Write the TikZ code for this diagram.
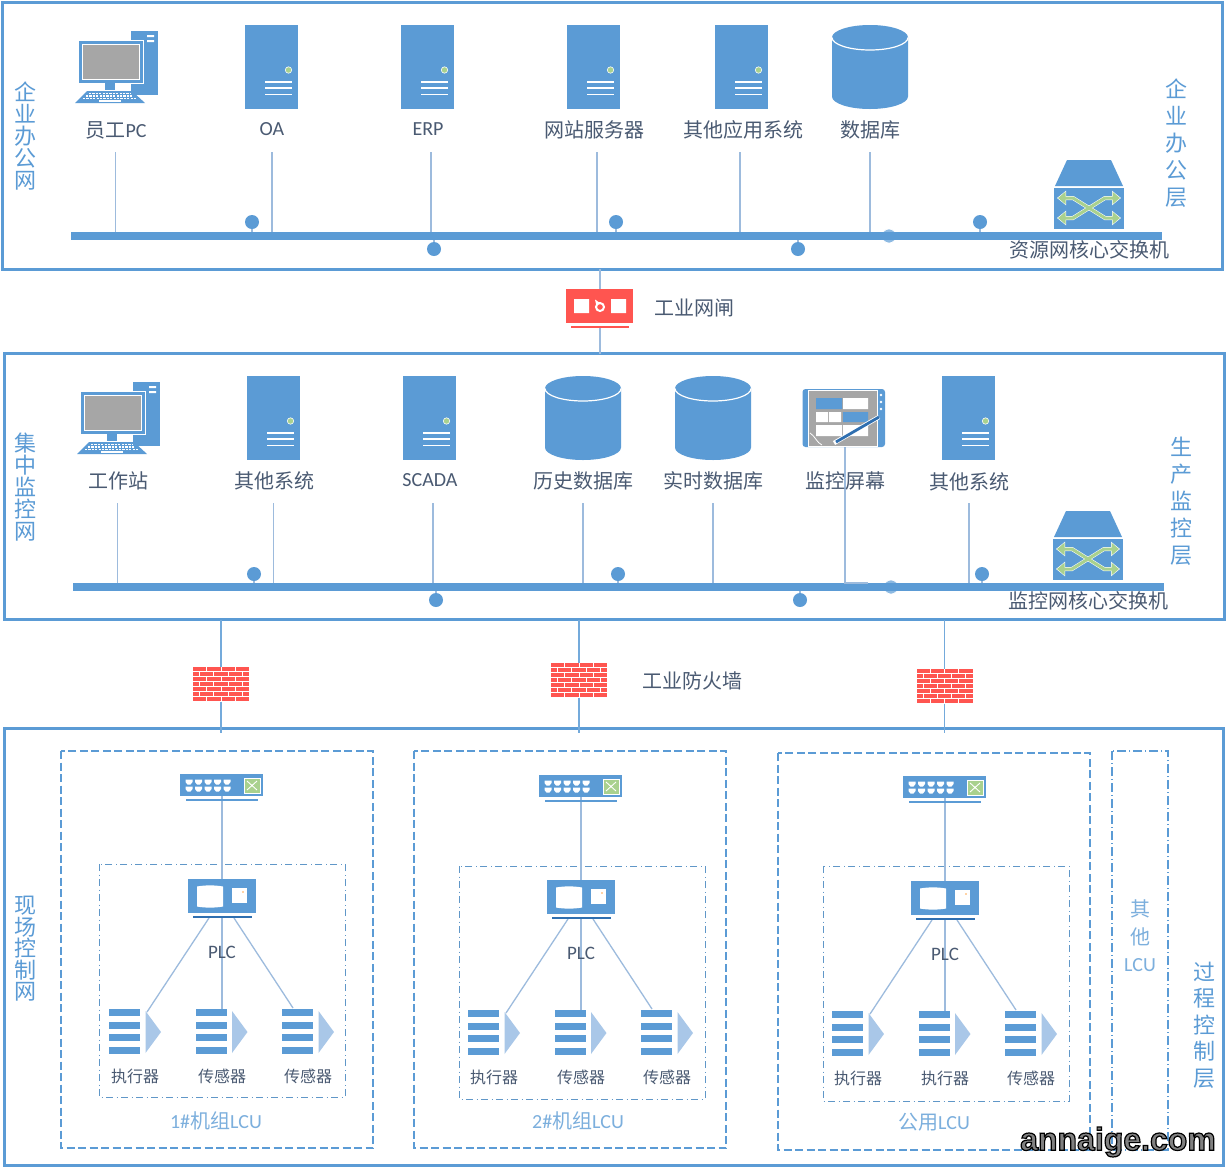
\documentclass[tikz,border=0pt]{standalone}
\usepackage{fontspec}
\setmainfont{Carlito}
\newfontfamily\cjk{Noto Sans CJK SC}
\newfontfamily\wmfont{Liberation Sans}
\usetikzlibrary{arrows.meta}
\definecolor{blu}{HTML}{5B9BD5}
\definecolor{pale}{HTML}{A9C7E8}
\definecolor{lnk}{HTML}{9DBBDD}
\definecolor{txtc}{HTML}{4A5A72}
\definecolor{grn}{HTML}{A9D18E}
\definecolor{redd}{HTML}{FF5550}
\definecolor{gry}{HTML}{A6A6A6}
\definecolor{penb}{HTML}{2F6FB0}
\tikzset{
  netframe/.style={draw=blu,line width=3pt,fill=white,inner sep=0pt,outer sep=0pt},
  busbar/.style={fill=blu,inner sep=0pt,outer sep=0pt,minimum height=8pt},
  link/.style={draw=lnk,line width=1.3pt},
  feed/.style={draw=blu!85!white,line width=1.1pt},
  busdot/.style={circle,fill=blu,inner sep=0pt,outer sep=0pt,minimum size=14pt},
  hiddendot/.style={circle,fill=blu!70!white,draw=white,line width=.6pt,inner sep=0pt,outer sep=0pt,minimum size=14pt},
  lab/.style={inner sep=0pt,text=txtc,font=\fontsize{20}{24}\selectfont},
  slab/.style={inner sep=0pt,text=txtc,font=\fontsize{16}{20}\selectfont},
  vlab/.style={inner sep=0pt,align=center,text=blu,font=\fontsize{22}{#1}\selectfont\cjk},
  lculab/.style={inner sep=0pt,text=blu!80!white,font=\fontsize{20}{24}\selectfont},
  outerdash/.style={draw=blu,line width=1.5pt,dash pattern=on 8pt off 3.5pt},
  innerdash/.style={draw=blu!85!gray,line width=1pt,dash pattern=on 7pt off 3.5pt on 1pt off 3.5pt},
  otherdash/.style={draw=blu,line width=1.5pt,dash pattern=on 9pt off 3pt on 1pt off 3pt},
  server/.pic={
    \fill[blu] (0,0) rectangle (53,84);
    \fill[grn,draw=white,line width=.6pt] (43.5,45) circle (3.2pt);
    \foreach \yy in {57,63,69.5} \draw[white,line width=1.8pt] (20,\yy) -- (47,\yy);
  },
  database/.pic={
    \fill[blu] (0,12.5) -- (0,71.5) .. controls (0,78.4) and (17,84) .. (38,84)
      .. controls (59,84) and (76,78.4) .. (76,71.5) -- (76,12.5)
      .. controls (76,5.6) and (59,0) .. (38,0) .. controls (17,0) and (0,5.6) .. (0,12.5) -- cycle;
    \draw[white,line width=1.2pt] (0,12.5) .. controls (0,19.4) and (17,25) .. (38,25)
      .. controls (59,25) and (76,19.4) .. (76,12.5);
  },
  pcicon/.pic={
    \fill[blu] (56,1) rectangle (83,65);
    \fill[white] (72,5) rectangle (79,7) (72,10) rectangle (79,12);
    \fill[blu,draw=white,line width=.8pt] (3,10) rectangle (68,53);
    \fill[gry,draw=white,line width=.8pt] (7.5,14) rectangle (64,49);
    \fill[blu] (30,53) rectangle (40,60);
    \fill[blu] (12,61) -- (57,61) -- (70,73) -- (0,73) -- cycle;
    \foreach \yy/\xa/\xb in {63.5/14/55,66/11/58,68.5/8/61} \draw[white,line width=1.4pt,dash pattern=on 2.2pt off 1.2pt] (\xa,\yy) -- (\xb,\yy);
    \draw[white,line width=1.6pt] (24,71) -- (46,71);
  },
  coreswitch/.pic={
    \fill[blu] (13,0) -- (57,0) -- (69,26) -- (1,26) -- cycle;
    \fill[blu] (0,28) rectangle (70,69);
    \foreach \ya/\yb in {38/58,58/38} {
      \draw[white,line width=4pt,{Triangle[length=9pt,width=14pt]}-{Triangle[length=9pt,width=14pt]}] (3,\ya) -- (19,\ya) -- (51,\yb) -- (67,\yb);
    }
    \foreach \ya/\yb in {38/58,58/38} {
      \draw[grn,line width=3pt,{Triangle[length=7.5pt,width=12pt]}-{Triangle[length=7.5pt,width=12pt]}] (4,\ya) -- (19,\ya) -- (51,\yb) -- (66,\yb);
    }
  },
  bricks/.pic={
    \foreach \r in {0,2,4,6} \foreach \c in {0,1,2,3}
      \fill[redd] ({\c*14.25},{\r*5}) rectangle ({\c*14.25+13.25},{\r*5+4});
    \foreach \r in {1,3,5} {
      \fill[redd] (0,{\r*5}) rectangle (6,{\r*5+4});
      \foreach \c in {0,1,2} \fill[redd] ({7+\c*14.25},{\r*5}) rectangle ({20.25+\c*14.25},{\r*5+4});
      \fill[redd] (49.75,{\r*5}) rectangle (56,{\r*5+4});
    }
  },
  hubface/.pic={
    \foreach \yy in {5.5,12.5} \foreach \c in {0,1,2,3,4}
      \fill[white] ({5.5+\c*9.5},\yy) -- ({12.5+\c*9.5},\yy) -- ({12.5+\c*9.5},{\yy+2.5}) -- ({10.5+\c*9.5},{\yy+5}) -- ({7.5+\c*9.5},{\yy+5}) -- ({5.5+\c*9.5},{\yy+2.5}) -- cycle;
    \fill[grn,draw=white,line width=.8pt] (64,4) rectangle (80,19);
    \draw[white,line width=.9pt] (67,7) -- (77,16) (67,16) -- (77,7);
    \draw[blu,line width=1.6pt] (6,26) -- (78,26);
  },
  plcface/.pic={
    \fill[white] (9,7.5) .. controls (17,6) and (27,6) .. (35,7.5) -- (35,27.5) .. controls (27,29) and (17,29) .. (9,27.5) -- cycle;
    \fill[white] (44,9) rectangle (59,24);
    \fill[orange!70!white] (55,13) circle (.8pt);
    \draw[penb,line width=2pt] (5,38) -- (64,38);
  },
  actuator/.pic={
    \foreach \yy in {0,12.6,25.2,38} \fill[blu] (0,\yy) rectangle (31,{\yy+7});
    \fill[pale] (36.5,2) -- (52,23) -- (36.5,44) -- cycle;
  },
}
\begin{document}
\begin{tikzpicture}[x=1pt,y=-1pt]
\useasboundingbox (0,0) rectangle (1227,1168);
\fill[white] (0,0) rectangle (1227,1168);
% network frames
\node[netframe,minimum width=1220pt,minimum height=267pt] (net1) at (612,135.5) {};
\node[netframe,minimum width=1220pt,minimum height=266pt] (net2) at (614,486.5) {};
\node[netframe,minimum width=1219pt,minimum height=437pt] (net3) at (613.5,946.5) {};
% buses
\node[busbar,minimum width=1091pt] (bus1) at (616.5,236) {};
\node[busbar,minimum width=1091pt] (bus2) at (618.5,587) {};
% hidden dots behind bus
\node[hiddendot] (hd1) at (889,236) {};
\node[hiddendot] (hd2) at (891,587) {};
\fill[blu] (71,232) rectangle (1162,240);
\fill[blu] (73,583) rectangle (1164,591);
% bus dots
\foreach \n/\xx/\yy in {a/252/222,b/616/222,c/980/222}{
  \node[busdot] (d1\n) at (\xx,\yy) {};
  \draw[link] (d1\n) -- (d1\n |- bus1.north);
}
\foreach \n/\xx/\yy in {a/434/249,b/798/249}{
  \node[busdot] (d1\n) at (\xx,\yy) {};
  \draw[link] (d1\n) -- (d1\n |- bus1.south);
}
\foreach \n/\xx/\yy in {a/254/574,b/618/574,c/982/574}{
  \node[busdot] (d2\n) at (\xx,\yy) {};
  \draw[link] (d2\n) -- (d2\n |- bus2.north);
}
\foreach \n/\xx/\yy in {a/436/600,b/800/600}{
  \node[busdot] (d2\n) at (\xx,\yy) {};
  \draw[link] (d2\n) -- (d2\n |- bus2.south);
}
% drop lines
\foreach \xx [count=\i] in {115.5,272,431,597,740,870}{
  \coordinate (ta\i) at (\xx,152);
  \draw[link] (ta\i) -- (ta\i |- bus1.north);
}
\foreach \xx [count=\i] in {117.5,273.5,433,583,713,969}{
  \coordinate (tb\i) at (\xx,503);
  \draw[link] (tb\i) -- (tb\i |- bus2.north);
}
% row 1 icons
\pic at (75,30) {pcicon};
\pic at (245,25) {server};
\pic at (401,25) {server};
\pic at (567,25) {server};
\pic at (715,25) {server};
\pic at (832,25) {database};
\pic at (1054,160) {coreswitch};
% row 1 labels
\node[lab] (la1) at (116,130) {{\cjk 员工}PC};
\node[lab] (la2) at (272,129) {OA};
\node[lab] (la3) at (428,129) {ERP};
\node[lab,font=\fontsize{20}{24}\selectfont\cjk] (la4) at (594,130) {网站服务器};
\node[lab,font=\fontsize{20}{24}\selectfont\cjk] (la5) at (743,130) {其他应用系统};
\node[lab,font=\fontsize{20}{24}\selectfont\cjk] (la6) at (870,130) {数据库};
\node[lab,font=\fontsize{20}{24}\selectfont\cjk] (la7) at (1089,250) {资源网核心交换机};
\node[vlab=22] (va1) at (25,136) {企\\业\\办\\公\\网};
\node[vlab=27] (va2) at (1176,143) {企\\业\\办\\公\\层};
% gateway
\node[fill=redd,inner sep=0pt,outer sep=0pt,minimum width=67pt,minimum height=34pt] (gate) at (599.5,306) {};
\coordinate (gateb) at (600,327);
\draw[link] (net1.south -| gateb) -- (gate.north -| gateb);
\draw[link] (gateb) -- (net2.north -| gateb);
\draw[redd,line width=1.4pt] (571,327) -- (629,327);
\fill[white] (574,299) rectangle (589,313) (611,299) rectangle (626,313);
\draw[white,line width=2pt] (600,307) circle (4pt);
\fill[white] (595,299.5) -- (600,303) -- (596,304) -- cycle;
\node[lab,font=\fontsize{20}{24}\selectfont\cjk] (gatel) at (694,308) {工业网闸};
% row 2 icons
\pic at (77,381) {pcicon};
\pic at (247,376) {server};
\pic at (403,376) {server};
\pic at (545,376) {database};
\pic at (675,376) {database};
\pic at (942,376) {server};
\pic at (1053,511) {coreswitch};
% tablet
\coordinate (tabb) at (845,447);
\draw[link] (tabb) -- (tabb |- bus2.north) -- (868,583);
\fill[blu,rounded corners=3pt] (802.5,389) rectangle (885,447);
\fill[gry,draw=white,line width=.5pt] (808,390) rectangle (877,446);
\fill[blu] (816,398) rectangle (842,409) (843,412) rectangle (868,422);
\fill[white] (843,398) rectangle (868,409) (816,412) rectangle (828,422) (829,412) rectangle (841,422) (816,425) rectangle (842,436) (843,425) rectangle (868,436);
\foreach \yy in {395,402,409}\fill[white] (881,\yy) circle (1.4pt);
\draw[white,line width=.8pt] (810,433) .. controls (815,436) and (817,443) .. (822,445);
\draw[white,line width=4.4pt] (879,417) -- (834,443);
\draw[penb,line width=2.8pt] (879,417) -- (836,442);
% row 2 labels
\node[lab,font=\fontsize{20}{24}\selectfont\cjk] (lb1) at (118,481) {工作站};
\node[lab,font=\fontsize{20}{24}\selectfont\cjk] (lb2) at (274,481) {其他系统};
\node[lab] (lb3) at (430,480) {SCADA};
\node[lab,font=\fontsize{20}{24}\selectfont\cjk] (lb4) at (583,481) {历史数据库};
\node[lab,font=\fontsize{20}{24}\selectfont\cjk] (lb5) at (713,481) {实时数据库};
\node[lab,font=\fontsize{20}{24}\selectfont\cjk] (lb6) at (845,481) {监控屏幕};
\node[lab,font=\fontsize{20}{24}\selectfont\cjk] (lb7) at (969,482) {其他系统};
\node[lab,font=\fontsize{20}{24}\selectfont\cjk] (lb8) at (1088,601) {监控网核心交换机};
\node[vlab=22] (vb1) at (26,487) {集\\中\\监\\控\\网};
\node[vlab=27] (vb2) at (1181,501) {生\\产\\监\\控\\层};
% firewalls
\foreach \n/\xx/\yy in {1/221/684.5,2/579/680.5,3/944.5/686.5}{
  \coordinate (fe\n) at (\xx,733);
  \draw[feed] (net2.south -| fe\n) -- (fe\n);
  \node[fill=white,inner sep=0pt,outer sep=0pt,minimum width=56pt,minimum height=35pt] (fw\n) at (\xx,\yy) {};
  \pic at ({\xx-28},{\yy-17.5}) {bricks};
}
\node[lab,font=\fontsize{20}{24}\selectfont\cjk] (fwl) at (692,681) {工业防火墙};
% LCU boxes
\draw[outerdash] (61,751) rectangle (373,1148);
\draw[outerdash] (414,751) rectangle (726,1148);
\draw[outerdash] (778,753) rectangle (1090,1150);
\draw[otherdash] (1112,751) rectangle (1168,1150);
\draw[innerdash] (99,864) rectangle (345,1097);
\draw[innerdash] (459,866) rectangle (705,1099);
\draw[innerdash] (823,866) rectangle (1069,1101);
% LCU contents
\foreach \n/\dx/\dy/\la/\lb/\lc in {1/0/0/执行器/传感器/传感器,2/359/1/执行器/传感器/传感器,3/723/2/执行器/执行器/传感器}{
  \begin{scope}[shift={(\dx,\dy)}]
    \node[fill=blu,inner sep=0pt,outer sep=0pt,minimum width=83pt,minimum height=22pt] (hub\n) at (221.5,785) {};
    \node[fill=blu,inner sep=0pt,outer sep=0pt,minimum width=68pt,minimum height=34pt] (plc\n) at (222,896) {};
    \coordinate (hb\n) at (222,796);
    \coordinate (pt\n) at (222,879);
    \coordinate (pl\n) at (209,918);
    \coordinate (pm\n) at (222,918);
    \coordinate (pr\n) at (234,918);
    \coordinate (aa\n) at (147,1012);
    \coordinate (ab\n) at (222,1009);
    \coordinate (ac\n) at (293,1008);
    \draw[link] (hb\n) -- (pt\n);
    \draw[link] (pl\n) -- (aa\n);
    \draw[link] (pm\n) -- (ab\n);
    \draw[link] (pr\n) -- (ac\n);
    \pic at (180,774) {hubface};
    \pic at (188,879) {plcface};
    \node[slab,font=\fontsize{19}{24}\selectfont] (plcl\n) at (222,952) {PLC};
    \pic at (109,1009) {actuator};
    \pic at (195.5,1009) {actuator};
    \pic at (282,1009) {actuator};
    \node[slab,font=\fontsize{16}{20}\selectfont\cjk] (sa\n) at (135,1076) {\la};
    \node[slab,font=\fontsize{16}{20}\selectfont\cjk] (sb\n) at (222,1076) {\lb};
    \node[slab,font=\fontsize{16}{20}\selectfont\cjk] (sc\n) at (308,1076) {\lc};
  \end{scope}
}
\node[lculab] (lcu1) at (216,1121) {1\#{\cjk 机组}LCU};
\node[lculab] (lcu2) at (578,1121) {2\#{\cjk 机组}LCU};
\node[lculab] (lcu3) at (934,1122) {{\cjk 公用}LCU};
\node[lculab,align=center,font=\fontsize{20}{27.5}\selectfont] (lcu4) at (1140,936) {{\cjk 其}\\{\cjk 他}\\LCU};
\node[vlab=21.5] (vc1) at (26,949) {现\\场\\控\\制\\网};
\node[vlab=26.5] (vc2) at (1204,1025) {过\\程\\控\\制\\层};
% watermark
\node[inner sep=0pt,text=black!50,font=\fontsize{32}{36}\selectfont\bfseries\wmfont] (wm) at (1118,1142)
  {\special{pdf:code 2 Tr 1.2 w 0 0 0 RG}annaige.com\special{pdf:code 0 Tr}};
\end{tikzpicture}
\end{document}
